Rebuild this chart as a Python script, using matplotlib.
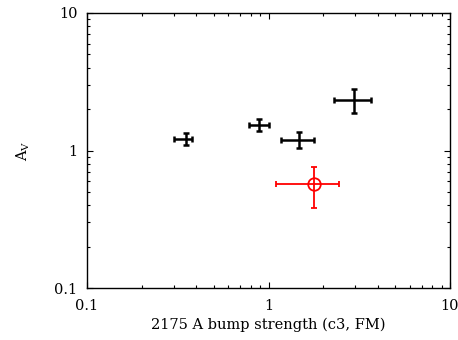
import matplotlib
matplotlib.use("Agg")
import matplotlib.pyplot as plt
import numpy as np

# black points: c3 bump strength vs A_V
bump = [0.35, 0.887, 1.467, 2.96]
bump_lo = [0.300, 0.78, 1.17, 2.30]
bump_hi = [0.378, 1.01, 1.77, 3.66]
av = [1.21, 1.53, 1.19, 2.34]
av_lo = [1.10, 1.39, 1.04, 1.88]
av_hi = [1.33, 1.69, 1.36, 2.81]

# red point
red_bump, red_bump_lo, red_bump_hi = 1.77, 1.10, 2.44
red_av, red_av_lo, red_av_hi = 0.574, 0.380, 0.762

plt.rcParams['font.family'] = ['DejaVu Serif']
plt.rcParams['mathtext.fontset'] = 'dejavuserif'

fig = plt.figure(figsize=(4.58, 3.40), dpi=100)
ax = fig.add_axes([87/458, 1 - 288/340, (450-87)/458, (288-13)/340])

x = np.array(bump)
y = np.array(av)
xerr = [x - np.array(bump_lo), np.array(bump_hi) - x]
yerr = [y - np.array(av_lo), np.array(av_hi) - y]
ax.errorbar(x, y, xerr=xerr, yerr=yerr, fmt='none', ecolor='black',
            elinewidth=1.8, capsize=2, capthick=1.8)

ax.errorbar([red_bump], [red_av],
            xerr=[[red_bump - red_bump_lo], [red_bump_hi - red_bump]],
            yerr=[[red_av - red_av_lo], [red_av_hi - red_av]],
            fmt='o', mfc='none', mec='red', ms=9, mew=1.3,
            ecolor='red', elinewidth=1.3, capsize=2, capthick=1.3)

ax.set_xscale('log')
ax.set_yscale('log')
ax.set_xlim(0.1, 10)
ax.set_ylim(0.1, 10)
ax.set_xticks([0.1, 1, 10])
ax.set_xticklabels(['0.1', '1', '10'])
ax.set_yticks([0.1, 1, 10])
ax.set_yticklabels(['0.1', '1', '10'])
ax.tick_params(which='both', direction='in', top=True, right=True, labelsize=10.5)
ax.tick_params(which='major', length=4, width=0.8)
ax.tick_params(which='minor', length=2, width=0.8)
ax.tick_params(axis='x', pad=8)
ax.tick_params(axis='y', pad=7)
for s in ax.spines.values():
    s.set_linewidth(1.0)

ax.set_xlabel('2175 A bump strength (c3, FM)', fontsize=10.5, labelpad=3)
ax.set_ylabel(r'A$_\mathrm{V}$', fontsize=10.5, labelpad=16)

fig.savefig('out.png', dpi=100)
